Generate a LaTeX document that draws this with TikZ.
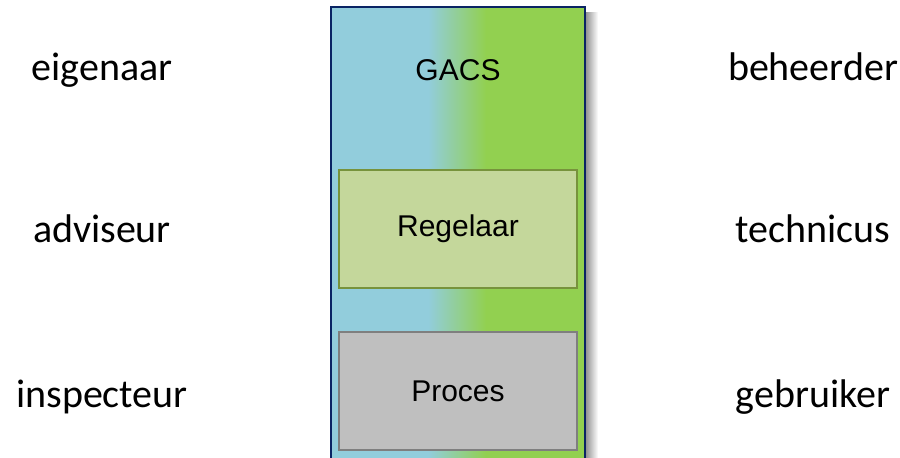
\documentclass[tikz,border=0pt]{standalone}
\usepackage{fontspec}
\setmainfont{Carlito}
\newfontfamily\arialfont{Liberation Sans}
\definecolor{gacsblauw}{RGB}{146,205,220}
\definecolor{gacsgroen}{RGB}{146,208,80}
\definecolor{gacsrand}{RGB}{10,36,100}
\definecolor{regelvul}{RGB}{196,215,155}
\definecolor{regelrand}{RGB}{119,147,60}
\definecolor{procesvul}{RGB}{191,191,191}
\definecolor{procesrand}{RGB}{127,127,127}
\tikzset{
	rol/.style={anchor=base, font=\fontsize{20}{24}\selectfont},
	blok/.style={draw, line width=1.3pt, minimum width=119pt, minimum height=59pt, font=\arialfont\fontsize{15}{18}\selectfont}
}

\begin{document}
\begin{tikzpicture}[x=0.5pt, y=-0.5pt]
		%%%%% START %%%%%
		\useasboundingbox (0,0) rectangle (900,457);
		\clip (0,0) rectangle (900,457);
		
		\shade[left color=black!45, right color=white] (585,12) rectangle (598,470);
		
		\fill[gacsblauw] (331,7) rectangle (428,470);
		\shade[left color=gacsblauw, right color=gacsgroen] (428,7) rectangle (486,470);
		\fill[gacsgroen] (486,7) rectangle (585,470);
		\draw[line width=1.3pt, color=gacsrand] (331,7) rectangle (585,470);
		
		\node[anchor=base, font=\arialfont\fontsize{15}{18}\selectfont] (gacs) at (458,80) {GACS};
		\node[blok, fill=regelvul, draw=regelrand] (regelaar) at (458,229) {Regelaar};
		\node[blok, fill=procesvul, draw=procesrand] (proces) at (458,391) {Proces};
		
		\node[rol] (eigenaar) at (102,80) {eigenaar};
		\node[rol] (adviseur) at (102,242) {adviseur};
		\node[rol] (inspecteur) at (102,407) {inspecteur};
		
		\node[rol] (beheerder) at (813,80) {beheerder};
		\node[rol] (technicus) at (813,242) {technicus};
		\node[rol] (gebruiker) at (813,407) {gebruiker};
		
		%%%%% END %%%%%
	\end{tikzpicture}
\end{document}
